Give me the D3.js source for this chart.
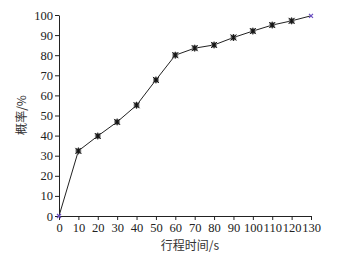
<!DOCTYPE html>
<html>
<head>
<meta charset="utf-8">
<script src="https://cdn.jsdelivr.net/npm/d3@7"></script>
<style>
  body { margin: 0; background: #fff; }
  text { font-family: "Liberation Serif", "Noto Sans CJK SC", serif; }
</style>
</head>
<body>
<div id="chart"></div>
<script>
// travel time (s) and cumulative probability (%)
const times = [0, 10, 20, 30, 40, 50, 60, 70, 80, 90, 100, 110, 120, 130];
const probs = [0, 32.4, 39.8, 46.8, 55.1, 67.7, 80, 83.5, 85.1, 88.8, 92, 95, 97.1, 99.6];
const xTicks = [0, 10, 20, 30, 40, 50, 60, 70, 80, 90, 100, 110, 120, 130];
const yTicks = [0, 10, 20, 30, 40, 50, 60, 70, 80, 90, 100];

function draw() {
    const margin = { top: 15, right: 32, bottom: 42, left: 59 },
        width = 343 - margin.left - margin.right,
        height = 258 - margin.top - margin.bottom;

    const svg = d3.select("#chart")
        .append("svg")
        .attr("width", 343)
        .attr("height", 258)
        .append("g")
        .attr("transform", `translate(${margin.left},${margin.top})`);

    const x = d3.scaleLinear().domain([0, 130]).range([0, width]);
    const y = d3.scaleLinear().domain([0, 100]).range([height, 0]);

    const xAxis = svg.append("g")
        .attr("transform", `translate(0,${height})`)
        .call(d3.axisBottom(x).tickValues(xTicks).tickSize(4).tickSizeOuter(0).tickPadding(3));

    const yAxis = svg.append("g")
        .call(d3.axisLeft(y).tickValues(yTicks).tickSize(4).tickSizeOuter(0).tickPadding(2));

    [xAxis, yAxis].forEach(a => {
        a.selectAll("path, line").attr("stroke", "#222");
        a.selectAll("text")
            .attr("fill", "#222")
            .style("font-size", "12.5px")
            .style("font-family", "'Liberation Serif', serif");
    });

    // line
    svg.append("path")
        .datum(times.map((t, i) => [t, probs[i]]))
        .attr("fill", "none")
        .attr("stroke", "#222")
        .attr("stroke-width", 1)
        .attr("d", d3.line().x(d => x(d[0])).y(d => y(d[1])));

    // markers
    const pts = times.map((t, i) => ({ t, p: probs[i], end: i === 0 || i === times.length - 1 }));
    const m = svg.selectAll(".mk").data(pts).enter().append("g")
        .attr("class", "mk")
        .attr("transform", d => `translate(${x(d.t)},${y(d.p)})`);

    m.filter(d => !d.end).append("rect")
        .attr("x", -2.5).attr("y", -2.5).attr("width", 5).attr("height", 5)
        .attr("fill", "#333").attr("stroke", "#999").attr("stroke-width", 0.8);
    m.filter(d => !d.end).append("path")
        .attr("d", "M-3,-3L3,3M-3,3L3,-3M0,-3.5L0,3.5")
        .attr("stroke", "#111").attr("stroke-width", 0.9);
    m.filter(d => d.end).append("path")
        .attr("d", "M-2,-2L2,2M-2,2L2,-2")
        .attr("stroke", "#6a4fc0").attr("stroke-width", 1.2);

    // axis labels
    svg.append("text")
        .attr("x", width / 2 + 5)
        .attr("y", height + 34)
        .attr("text-anchor", "middle")
        .style("font-size", "12px")
        .style("font-family", "'Noto Sans CJK SC', sans-serif")
        .attr("fill", "#333")
        .text("行程时间/s");

    svg.append("text")
        .attr("transform", "rotate(-90)")
        .attr("x", -100)
        .attr("y", -33)
        .attr("text-anchor", "middle")
        .style("font-size", "12px")
        .style("font-family", "'Noto Sans CJK SC', sans-serif")
        .attr("fill", "#333")
        .text("概率/%");
}

window.onload = draw;
</script>
</body>
</html>
